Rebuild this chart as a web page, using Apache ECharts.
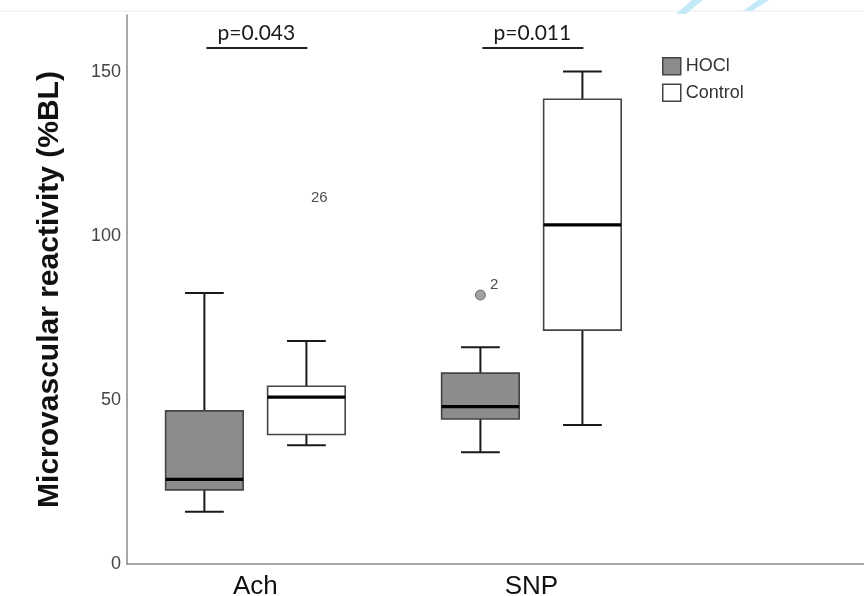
<!DOCTYPE html>
<html>
<head>
<meta charset="utf-8">
<script src="https://cdn.jsdelivr.net/npm/echarts@6/dist/echarts.min.js"></script>
<style>
html,body{margin:0;padding:0;background:#fff;}
#chart{width:864px;height:596px;}
</style>
</head>
<body>
<div id="chart"></div>
<script>
// ---- data ----
const categories = ['Ach', 'SNP'];
const groups = ['HOCl', 'Control'];
// [min whisker, Q1, median, Q3, max whisker]
const hoclBox = [[15.9, 22.6, 25.8, 46.7, 82.6], [34.1, 44.2, 48.0, 58.2, 66.1]];
const controlBox = [[36.2, 39.5, 50.9, 54.2, 68.0], [42.4, 71.3, 103.4, 141.7, 150.2]];
const outlierCats = [1, 0];
const outlierGroups = [0, 1];
const outlierValues = [82.0, 108.5];
const outlierLabels = ['2', '26'];
const outlierMarked = [true, false];
const pLabels = ['p=0.043', 'p=0.011'];
const pLevel = [157.3, 157.3];
const yTicks = [0, 50, 100, 150];
const yName = 'Microvascular reactivity (%BL)';

// ---- layout helpers ----
const OFF = 0.1848;   // group offset from category centre (axis units)
const BOXW = 0.281;   // box width (axis units)

function boxRender(groupIdx, fill, stroke) {
  return function (params, api) {
    const cat = api.value(0);
    const xv = cat + 1 + (groupIdx === 0 ? -OFF : OFF);
    const w = api.size([BOXW, 0])[0];
    const c = v => api.coord([xv, v]);
    const lo = c(api.value(1)), q1 = c(api.value(2)), md = c(api.value(3)),
          q3 = c(api.value(4)), hi = c(api.value(5));
    const x = lo[0], half = w / 2, cap = w / 4;
    const wl = {stroke: '#1a1a1a', lineWidth: 2};
    return {
      type: 'group',
      children: [
        {type: 'line', shape: {x1: x, y1: q3[1], x2: x, y2: hi[1]}, style: wl},
        {type: 'line', shape: {x1: x, y1: lo[1], x2: x, y2: q1[1]}, style: wl},
        {type: 'line', shape: {x1: x - cap, y1: hi[1], x2: x + cap, y2: hi[1]}, style: wl},
        {type: 'line', shape: {x1: x - cap, y1: lo[1], x2: x + cap, y2: lo[1]}, style: wl},
        {type: 'rect', shape: {x: x - half, y: q3[1], width: w, height: q1[1] - q3[1]},
          style: {fill: fill, stroke: stroke, lineWidth: 1.6}},
        {type: 'line', shape: {x1: x - half, y1: md[1], x2: x + half, y2: md[1]},
          style: {stroke: '#000', lineWidth: 3.2}}
      ]
    };
  };
}

function pRender(params, api) {
  const cat = api.value(0);
  const a = api.coord([cat + 1 - OFF, api.value(1)]);
  const b = api.coord([cat + 1 + OFF, api.value(1)]);
  return {
    type: 'group',
    children: [
      {type: 'line', shape: {x1: a[0] + 2, y1: a[1], x2: b[0] + 1, y2: b[1]},
        style: {stroke: '#222', lineWidth: 2}},
      {type: 'text', x: (a[0] + b[0]) / 2 + 1, y: a[1] - 4,
        style: {text: pLabels[cat], fill: '#1a1a1a', font: '21px Lato, "Liberation Sans", sans-serif',
          align: 'center', verticalAlign: 'bottom'}}
    ]
  };
}

const outlierData = outlierValues.map((v, i) => ({
  value: [outlierCats[i] + 1 + (outlierGroups[i] === 0 ? -OFF : OFF), v],
  label: {formatter: outlierLabels[i]},
  symbolSize: outlierMarked[i] ? 10 : 1,
  itemStyle: outlierMarked[i] ? {} : {color: 'rgba(0,0,0,0)', borderWidth: 0}
}));

const chart = echarts.init(document.getElementById('chart'), null, {renderer: 'canvas'});
chart.setOption({
  animation: false,
  backgroundColor: '#fff',
  grid: {left: 127, right: 0, top: 15, bottom: 32, outerBoundsMode: 'none', containLabel: false},
  legend: {
    orient: 'vertical', left: 662, top: 57, padding: 0,
    itemWidth: 18, itemHeight: 17, itemGap: 8,
    textStyle: {fontSize: 18, color: '#333', fontFamily: '"Liberation Sans", Arial, sans-serif'},
    data: [
      {name: 'HOCl', icon: 'rect', itemStyle: {color: '#8c8c8c', borderColor: '#444', borderWidth: 1.5}},
      {name: 'Control', icon: 'rect', itemStyle: {color: '#fff', borderColor: '#444', borderWidth: 1.5}}
    ]
  },
  xAxis: {
    type: 'value', min: 0.5348, max: 3.205,
    splitLine: {show: false}, axisTick: {show: false},
    axisLine: {show: true, lineStyle: {color: '#8a8a8a', width: 1.5}},
    axisLabel: {
      customValues: [1, 2],
      formatter: v => categories[Math.round(v) - 1] || '',
      fontSize: 26, color: '#111', margin: 10,
      fontFamily: '"Liberation Sans", Arial, sans-serif'
    }
  },
  yAxis: {
    type: 'value', min: 0, max: 167.4,
    name: yName, nameLocation: 'middle', nameGap: 62, nameRotate: 90,
    nameTextStyle: {fontSize: 30, fontWeight: 'bold', color: '#111', fontFamily: '"Liberation Sans", Arial, sans-serif'},
    splitLine: {show: false}, axisTick: {show: false},
    axisLine: {show: true, lineStyle: {color: '#8a8a8a', width: 1.5}},
    axisLabel: {
      customValues: yTicks,
      fontSize: 18, color: '#444', margin: 6,
      fontFamily: '"Liberation Sans", Arial, sans-serif'
    }
  },
  graphic: [
    {type: 'line', shape: {x1: 0, y1: 11, x2: 864, y2: 11}, style: {stroke: '#ececec', lineWidth: 1}, silent: true},
    {type: 'polygon', shape: {points: [[692, 0], [703, 0], [686, 14], [676, 14]]}, style: {fill: '#c4eaf8'}, silent: true},
    {type: 'polygon', shape: {points: [[758, 0], [769, 0], [752, 11], [743, 11]]}, style: {fill: '#c4eaf8'}, silent: true}
  ],
  series: [
    {
      name: 'HOCl', type: 'custom', renderItem: boxRender(0, '#8c8c8c', '#444'),
      itemStyle: {color: '#8c8c8c', borderColor: '#444'},
      encode: {x: 0, y: [1, 2, 3, 4, 5]},
      data: hoclBox.map((s, i) => [i].concat(s)), z: 2
    },
    {
      name: 'Control', type: 'custom', renderItem: boxRender(1, '#ffffff', '#444'),
      itemStyle: {color: '#fff', borderColor: '#444'},
      encode: {x: 0, y: [1, 2, 3, 4, 5]},
      data: controlBox.map((s, i) => [i].concat(s)), z: 2
    },
    {
      name: 'outliers', type: 'scatter', symbol: 'circle',
      itemStyle: {color: '#8a8a8a', borderColor: '#555', borderWidth: 1},
      label: {show: true, position: 'right', offset: [-1, -10], fontSize: 15, color: '#222',
        fontFamily: '"Liberation Sans", Arial, sans-serif'},
      data: outlierData, z: 3
    },
    {
      name: 'pvalues', type: 'custom', renderItem: pRender,
      encode: {x: 0, y: 1},
      data: pLevel.map((v, i) => [i, v]), z: 3
    }
  ]
});
</script>
</body>
</html>
